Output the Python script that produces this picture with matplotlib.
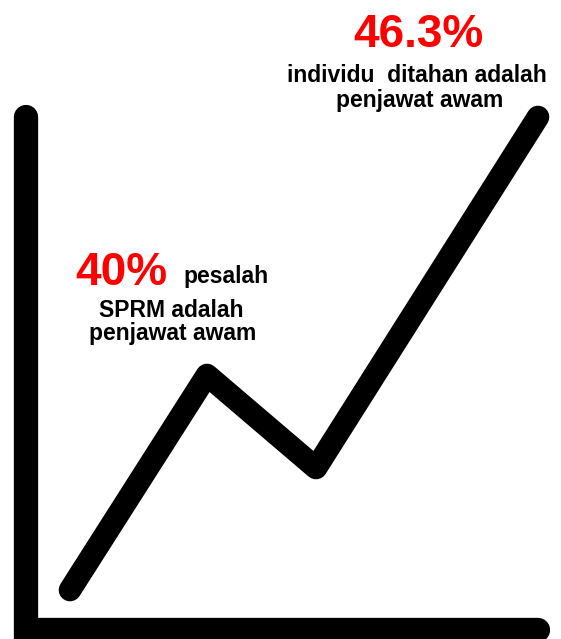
import numpy as np
import matplotlib.pyplot as plt

plt.rcParams['font.family'] = ['Liberation Sans', 'DejaVu Sans']

trend_x = [44, 181, 290, 512]
trend_y = [40, 255, 162, 513]

# hand-drawn axis extents
axis_top = 513
axis_right = 512

big_red = ['40%', '46.3%']
note_low = ['pesalah', 'SPRM adalah', 'penjawat awam']
note_high = ['individu  ditahan adalah', 'penjawat awam']

W, H = 561, 639
fig = plt.figure(figsize=(W / 100, H / 100), dpi=100)
# 1 data unit == 1 pixel, origin at the axis corner
ax = fig.add_axes([26 / W, 9 / H, 535 / W, 630 / H])
ax.set_xlim(0, 535)
ax.set_ylim(0, 630)
ax.axis('off')

# axes as thick black strokes
ax.plot([0, 0, axis_right], [axis_top, 0, 0], color='black', lw=17.5,
        solid_capstyle='round', solid_joinstyle='miter', clip_on=False)

# the trend line
ax.plot(trend_x, trend_y, color='black', lw=16.3,
        solid_capstyle='round', solid_joinstyle='round', clip_on=False)


def px(x, y):
    return x / W, 1 - y / H


red = '#ff0000'
# upper annotation
fig.text(*px(418, 47), big_red[1], color=red, fontsize=33, fontweight='bold',
         ha='center', va='baseline')
fig.text(*px(417, 82), note_high[0], fontsize=16.5, fontweight='bold',
         ha='center', va='baseline')
fig.text(*px(420, 107), note_high[1], fontsize=16.5, fontweight='bold',
         ha='center', va='baseline')

# lower annotation
fig.text(*px(75, 285), big_red[0], color=red, fontsize=33, fontweight='bold',
         ha='left', va='baseline')
fig.text(*px(183, 283), note_low[0], fontsize=16.5, fontweight='bold',
         ha='left', va='baseline')
fig.text(*px(171, 317), note_low[1], fontsize=16.5, fontweight='bold',
         ha='center', va='baseline')
fig.text(*px(172.5, 340), note_low[2], fontsize=16.5, fontweight='bold',
         ha='center', va='baseline')

fig.savefig('out.png', dpi=100)
